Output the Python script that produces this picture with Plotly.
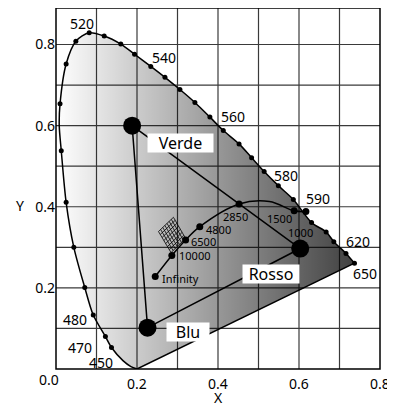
import plotly.graph_objects as go

# Luogo spettrale (dal fondo a sinistra fino a 650 nm)
# pallino = 1 se sul punto c'e' il marcatore
locus_x = [0.200, 0.185, 0.166, 0.137, 0.122, 0.092, 0.071, 0.044, 0.025, 0.013,
           0.008, 0.010, 0.025, 0.049, 0.082, 0.119, 0.160, 0.194, 0.234, 0.269,
           0.306, 0.343, 0.380, 0.413, 0.452, 0.483, 0.514, 0.549, 0.586, 0.631,
           0.667, 0.686, 0.716, 0.737]
locus_y = [0.000, 0.006, 0.020, 0.053, 0.080, 0.133, 0.201, 0.300, 0.411, 0.538,
           0.600, 0.654, 0.752, 0.808, 0.829, 0.821, 0.801, 0.776, 0.746, 0.719,
           0.689, 0.657, 0.621, 0.588, 0.555, 0.521, 0.487, 0.452, 0.418, 0.361,
           0.338, 0.314, 0.285, 0.261]
pallino = [0, 0, 0, 1, 1, 1, 1, 1, 1, 1,
           0, 1, 1, 1, 1, 1, 1, 1, 1, 1,
           1, 1, 1, 1, 1, 1, 1, 1, 1, 1,
           1, 1, 1, 1]

# Etichette lunghezze d'onda (nm)
wl_testo = ['520', '540', '560', '580', '590', '620', '650', '480', '470', '450']
wl_x = [0.064, 0.267, 0.438, 0.567, 0.648, 0.746, 0.762, 0.046, 0.060, 0.112]
wl_y = [0.852, 0.769, 0.623, 0.477, 0.420, 0.314, 0.235, 0.123, 0.053, 0.016]

# Luogo di Planck (K)
planck_x = [0.245, 0.286, 0.320, 0.355, 0.452, 0.527, 0.588, 0.617]
planck_y = [0.228, 0.280, 0.318, 0.351, 0.407, 0.413, 0.390, 0.388]
planck_pallino = [1, 1, 1, 1, 1, 0, 1, 1]
planck_testo = ['Infinity', '10000', '6500', '4800', '2850', '1500', '1000']
planck_lx = [0.307, 0.343, 0.365, 0.401, 0.442, 0.553, 0.604]
planck_ly = [0.223, 0.281, 0.314, 0.344, 0.375, 0.370, 0.337]

# Primari
prim_nome = ['Verde', 'Rosso', 'Blu']
prim_x = [0.188, 0.603, 0.226]
prim_y = [0.600, 0.297, 0.102]
prim_lx = [0.307, 0.532, 0.325]
prim_ly = [0.558, 0.233, 0.090]

# Reticolo vicino al punto bianco (vertici: sinistra, alto, destra, basso)
ret_x = [0.253, 0.290, 0.320, 0.284]
ret_y = [0.339, 0.374, 0.322, 0.287]
ret_div = 7

# Griglia assi
ticks = [i / 10 for i in range(10)]
x_text = ['', '', '0.2', '', '0.4', '', '0.6', '', '0.8', '']
y_text = ['', '', '0.2', '', '0.4', '', '0.6', '', '0.8', '']
XMAX, YMAX = 0.8, 0.89

fig = go.Figure()

# griglia come traccia (cosi' resta visibile sotto il riempimento trasparente)
gx, gy = [], []
for t in ticks[1:8]:
    gx += [t, t, None]
    gy += [0, YMAX, None]
for t in ticks[1:9]:
    gx += [0, XMAX, None]
    gy += [t, t, None]
fig.add_scatter(x=gx, y=gy, mode='lines', line=dict(color='#3a3a3a', width=1.2), hoverinfo='skip')

# area colorata con gradiente orizzontale
fig.add_scatter(x=locus_x, y=locus_y, mode='lines', fill='toself',
                line=dict(color='black', width=1.5, shape='spline', smoothing=0.8),
                fillgradient=dict(type='horizontal', start=0, stop=0.74,
                                  colorscale=[[0, 'rgba(0,0,0,0)'], [1, 'rgba(0,0,0,0.75)']]),
                hoverinfo='skip')
# linea delle porpore
fig.add_scatter(x=[locus_x[-1], locus_x[0]], y=[locus_y[-1], locus_y[0]], mode='lines',
                line=dict(color='black', width=1.5), hoverinfo='skip')
fig.add_scatter(x=[x for x, p in zip(locus_x, pallino) if p],
                y=[y for y, p in zip(locus_y, pallino) if p],
                mode='markers', marker=dict(color='black', size=5))

# reticolo
L, T, R, B = list(zip(ret_x, ret_y))
mx, my = [], []
for i in range(ret_div + 1):
    t = i / ret_div
    for a0, a1, b0, b1 in [(L, T, B, R), (L, B, T, R)]:
        pa = (a0[0] + (a1[0] - a0[0]) * t, a0[1] + (a1[1] - a0[1]) * t)
        pb = (b0[0] + (b1[0] - b0[0]) * t, b0[1] + (b1[1] - b0[1]) * t)
        mx += [pa[0], pb[0], None]
        my += [pa[1], pb[1], None]
fig.add_scatter(x=mx, y=my, mode='lines', line=dict(color='black', width=0.8), hoverinfo='skip')

# luogo di Planck
fig.add_scatter(x=planck_x, y=planck_y, mode='lines',
                line=dict(color='black', width=1.5, shape='spline'), hoverinfo='skip')
fig.add_scatter(x=[x for x, p in zip(planck_x, planck_pallino) if p],
                y=[y for y, p in zip(planck_y, planck_pallino) if p],
                mode='markers', marker=dict(color='black', size=7))

# triangolo dei primari
fig.add_scatter(x=prim_x + [prim_x[0]], y=prim_y + [prim_y[0]], mode='lines',
                line=dict(color='black', width=1.5), hoverinfo='skip')
fig.add_scatter(x=prim_x, y=prim_y, mode='markers', marker=dict(color='black', size=18))

for t, x, y in zip(wl_testo, wl_x, wl_y):
    fig.add_annotation(x=x, y=y, text=t, showarrow=False,
                       font=dict(family='Noto Sans', size=14, color='black'))
for t, x, y in zip(planck_testo, planck_lx, planck_ly):
    fig.add_annotation(x=x, y=y, text=t, showarrow=False,
                       font=dict(family='Noto Sans', size=11, color='black'))
box_w = {'Verde': 65, 'Rosso': 56, 'Blu': 42}
for t, x, y in zip(prim_nome, prim_lx, prim_ly):
    fig.add_annotation(x=x, y=y, text=t, showarrow=False, bgcolor='white',
                       width=box_w[t], height=18, borderpad=0,
                       font=dict(family='Noto Sans', size=16, color='black'))

# titoli degli assi e origine
testo_assi = dict(showarrow=False, xanchor='center', yanchor='middle',
                  font=dict(family='Noto Sans', size=14, color='black'))
fig.add_annotation(x=-0.111, y=0.452, xref='paper', yref='paper', text='Y', **testo_assi)
fig.add_annotation(x=0.4, y=-0.078, yref='paper', text='X', **testo_assi)
fig.add_annotation(x=-0.0225, y=-0.030, xref='paper', yref='paper', text='0.0', **testo_assi)

# cornice
fig.add_shape(type='rect', xref='paper', yref='paper', x0=0, y0=0, x1=1, y1=1,
              line=dict(color='black', width=1.5), layer='above')

# la pagina ha 8 px di margine: figura ridotta di conseguenza
fig.update_layout(width=387, height=401, margin=dict(l=48, r=15, t=0, b=40),
                  plot_bgcolor='white', paper_bgcolor='white', showlegend=False,
                  font=dict(family='Noto Sans', size=14, color='black'))
fig.update_xaxes(range=[0, XMAX], tickvals=ticks, ticktext=x_text, showgrid=False,
                 showline=False, zeroline=False, ticks='', ticklabelstandoff=5)
fig.update_yaxes(range=[0, YMAX], tickvals=ticks, ticktext=y_text, showgrid=False,
                 showline=False, zeroline=False, ticks='')

fig.write_html("out.html")
